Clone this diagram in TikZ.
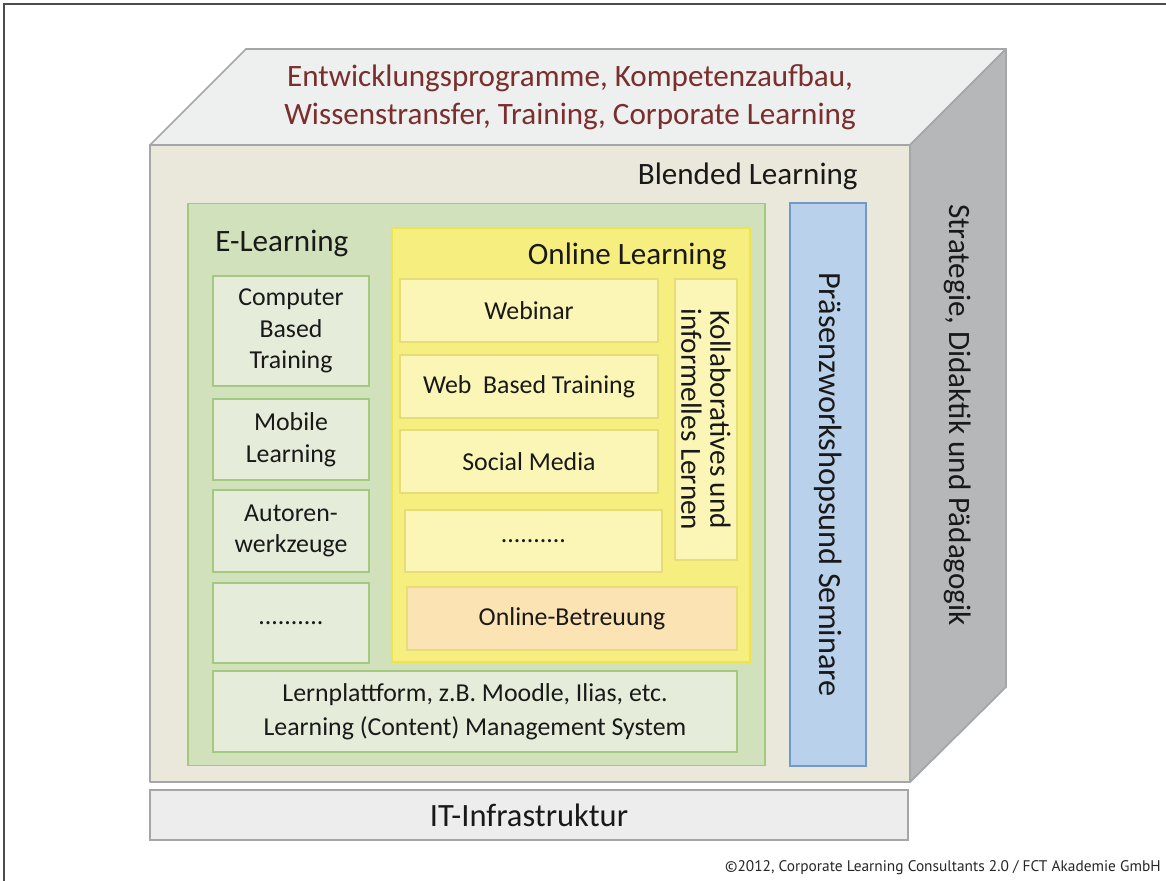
\documentclass[tikz,border=0pt]{standalone}
\usepackage{fontspec}
\setmainfont{Carlito}
\newfontfamily\notefont{PT Sans}
\usetikzlibrary{calc}

\definecolor{frontface}{HTML}{EAE7DB}
\definecolor{topface}{HTML}{EEEFEF}
\definecolor{sideface}{HTML}{B5B7B9}
\definecolor{cubeedge}{HTML}{A5A6A8}
\definecolor{elgreen}{HTML}{D0E1BC}
\definecolor{elgreenline}{HTML}{A3C97F}
\definecolor{elbox}{HTML}{E5EDDA}
\definecolor{olyellow}{HTML}{F6EF80}
\definecolor{olyellowline}{HTML}{EEE54A}
\definecolor{olbox}{HTML}{FBF5B6}
\definecolor{olboxline}{HTML}{E6DC78}
\definecolor{betreuungfill}{HTML}{FCE3B3}
\definecolor{praesenzfill}{HTML}{B9D1EB}
\definecolor{praesenzline}{HTML}{7399CC}
\definecolor{toptext}{HTML}{7A2E2E}
\definecolor{itfill}{HTML}{EDEDED}

\newcommand{\headsize}{\fontsize{17.7}{21.6}\selectfont}
\newcommand{\itemsize}{\fontsize{14.7}{18}\selectfont}

\begin{document}
\begin{tikzpicture}[x=0.02cm,y=-0.02cm,
  pxsize/.style 2 args={minimum width=#1*0.02cm, minimum height=#2*0.02cm},
  heading/.style={font=\headsize, text=black!90, inner sep=0pt},
  elitem/.style={draw=elgreenline, fill=elbox, line width=1pt, font=\itemsize, align=center, text=black!90, inner sep=0pt},
  olitem/.style={draw=olboxline, fill=olbox, line width=1pt, font=\itemsize, align=center, text=black!90, inner sep=0pt},
  face/.style={draw=cubeedge, line width=1pt, line join=round}]
\useasboundingbox (0,0) rectangle (1166,881);
% Rahmen oben und links
\draw[line width=1.2pt, black!70] (4,881) -- (4,4) -- (1166,4);
% Wuerfel: Deckel, Seite, Front
\filldraw[face, fill=topface] (150,145) -- (246,49) -- (1006,49) -- (910,145) -- cycle;
\filldraw[face, fill=sideface] (910,145) -- (1006,49) -- (1006,687) -- (910,782) -- cycle;
\filldraw[face, fill=frontface] (150,145) rectangle (910,782);
\node[font=\headsize, text=toptext, align=center, inner sep=0pt] (ziele) at (570,97)
  {Entwicklungsprogramme, Kompetenzaufbau,\\Wissenstransfer, Training, Corporate Learning};
\node[heading, rotate=-90] (strategie) at (958,415) {Strategie, Didaktik und Pädagogik};
\node[heading, anchor=east] (blended) at (858,176) {Blended Learning};
% E-Learning
\node[draw=elgreenline, fill=elgreen, line width=1pt, pxsize={577}{562}] (elearn) at (476.5,484.5) {};
\node[heading, anchor=west] (eltitle) at (215,243) {E-Learning};
\node[elitem, pxsize={156}{110}] (cbt) at (291,331) {Computer\\Based\\Training};
\node[elitem, pxsize={156}{81}] (mobile) at (291,439.5) {Mobile\\Learning};
\node[elitem, pxsize={156}{82}] (autoren) at (291,531) {Autoren-\\werkzeuge};
\node[elitem, pxsize={156}{80}] (eldots) at (291,623) {..........};
\node[elitem, pxsize={524}{81}] (lms) at (475,711.5)
  {Lernplattform, z.B. Moodle, Ilias, etc.\\[1.5pt]Learning (Content) Management System};
% Online Learning
\node[draw=olyellowline, fill=olyellow, line width=1.2pt, pxsize={358}{434}] (online) at (571,445) {};
\node[heading, anchor=east] (oltitle) at (727,256) {Online Learning};
\node[olitem, pxsize={258}{63}] (webinar) at (529,310.5) {Webinar};
\node[olitem, pxsize={258}{63}] (wbt) at (529,386.5) {Web\ \ Based Training};
\node[olitem, pxsize={258}{63}] (social) at (529,461.5) {Social Media};
\node[olitem, pxsize={257}{62}] (oldots) at (533.5,541) {..........};
\node[olitem, rotate=-90, pxsize={281}{62}, font=\fontsize{16.6}{16.6}\selectfont,
  text depth=0pt] (kollab) at (706,419.5)
  {Kollaboratives und\\informelles Lernen\hspace{24pt}};
\node[olitem, fill=betreuungfill, pxsize={330}{63}] (betreuung) at (572,618.5) {Online-Betreuung};
% Praesenz
\node[draw=praesenzline, fill=praesenzfill, line width=1pt, rotate=-90, pxsize={563}{76},
  font=\fontsize{18.4}{22}\selectfont, text=black!90, inner sep=0pt] (praesenz) at (828,484.5)
  {Präsenzworkshopsund Seminare\hspace{8pt}};
% IT-Infrastruktur
\node[draw=cubeedge, fill=itfill, line width=1pt, pxsize={758}{50}, font=\fontsize{18.5}{22}\selectfont,
  text=black!90, inner sep=0pt] (it) at (529,815) {IT-Infrastruktur};
\node[font=\notefont\fontsize{8.75}{10}\selectfont, text=black!85, anchor=east, inner sep=0pt] (copy) at (1161,868)
  {©2012, Corporate Learning Consultants 2.0 / FCT Akademie GmbH};
\end{tikzpicture}
\end{document}
